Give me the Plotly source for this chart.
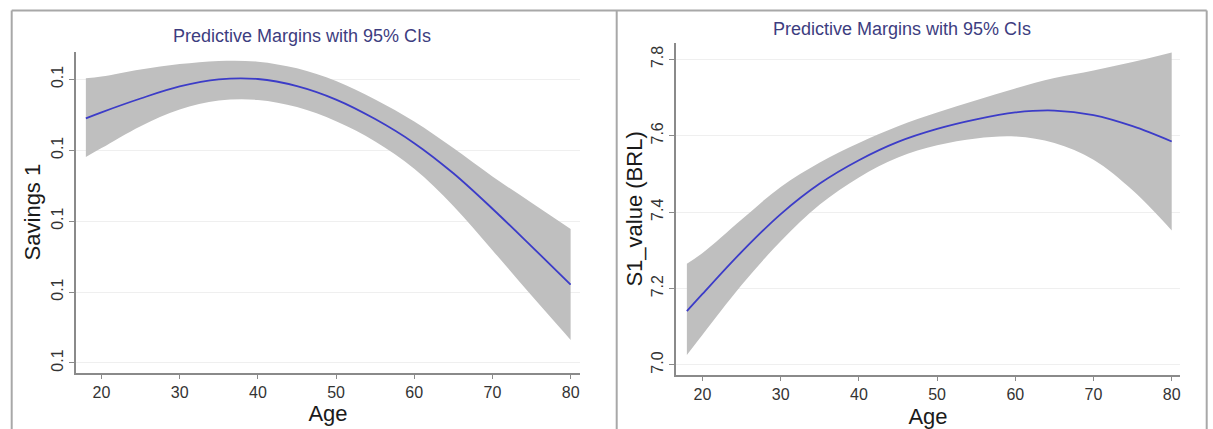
import plotly.graph_objects as go

# ---------------- data ----------------
ages = [18, 20, 25, 30, 35, 40, 45, 50, 55, 60, 65, 70, 75, 80]

# Left panel: Savings 1
sav_margin = [0.1290, 0.1307, 0.1346, 0.1380, 0.1400, 0.1401, 0.1381, 0.1343,
              0.1288, 0.1220, 0.1135, 0.1035, 0.0929, 0.0821]
sav_upper = [0.1403, 0.1408, 0.1428, 0.1443, 0.1452, 0.1450, 0.1431, 0.1395,
             0.1343, 0.1281, 0.1206, 0.1126, 0.1052, 0.0978]
sav_lower = [0.1181, 0.1206, 0.1268, 0.1315, 0.1340, 0.1342, 0.1322, 0.1282,
             0.1225, 0.1148, 0.1043, 0.0918, 0.0790, 0.0665]

# Right panel: S1_value (BRL)
val_margin = [7.141, 7.186, 7.296, 7.395, 7.475, 7.536, 7.584, 7.618,
              7.643, 7.661, 7.666, 7.654, 7.625, 7.585]
val_upper = [7.265, 7.293, 7.381, 7.466, 7.530, 7.581, 7.625, 7.661,
             7.693, 7.724, 7.751, 7.771, 7.793, 7.818]
val_lower = [7.026, 7.079, 7.209, 7.324, 7.420, 7.491, 7.543, 7.575,
             7.593, 7.598, 7.581, 7.537, 7.457, 7.352]

x_ticks = [20, 30, 40, 50, 60, 70, 80]
left_y_ticks = [0.06, 0.08, 0.10, 0.12, 0.14]
left_y_text = ["0.1", "0.1", "0.1", "0.1", "0.1"]
right_y_ticks = [7.0, 7.2, 7.4, 7.6, 7.8]
right_y_text = ["7.0", "7.2", "7.4", "7.6", "7.8"]

title_text = "Predictive Margins with 95% CIs"
left_ytitle = "Savings 1"
right_ytitle = "S1_value (BRL)"
xtitle = "Age"

# ---------------- styles ----------------
W, H = 1213, 429
BAND = "#bfbfbf"
LINE = "#3c3cc8"
AX = "#8a8a8a"
FONT = "Liberation Sans, Arial, Helvetica, sans-serif"

def px_x(p):
    return p / W

def px_y(p):
    return 1 - p / H

fig = go.Figure()

def add_panel(xa, ya, lo, up, mid):
    fig.add_trace(go.Scatter(x=ages, y=lo, xaxis=xa, yaxis=ya, mode="lines",
                             line=dict(width=0, shape="spline", color=BAND),
                             showlegend=False, hoverinfo="skip"))
    fig.add_trace(go.Scatter(x=ages, y=up, xaxis=xa, yaxis=ya, mode="lines",
                             line=dict(width=0, shape="spline", color=BAND),
                             fill="tonexty", fillcolor=BAND,
                             showlegend=False, hoverinfo="skip"))
    fig.add_trace(go.Scatter(x=ages, y=mid, xaxis=xa, yaxis=ya, mode="lines",
                             line=dict(width=1.8, shape="spline", color=LINE),
                             showlegend=False))

add_panel("x", "y", sav_lower, sav_upper, sav_margin)
add_panel("x2", "y2", val_lower, val_upper, val_margin)

def xaxis_style(standoff):
    return dict(
        tickvals=x_ticks, showgrid=False, zeroline=False,
        showline=True, linecolor=AX, linewidth=1.5,
        ticks="outside", ticklen=5, tickwidth=1.2, tickcolor=AX,
        tickfont=dict(family=FONT, size=16, color="#333333"),
        title=dict(text=xtitle, font=dict(family=FONT, size=22, color="#1a1a1a"),
                   standoff=standoff),
    )

common_y = dict(
    showgrid=True, gridcolor="#efefef", gridwidth=1, zeroline=False,
    showline=True, linecolor=AX, linewidth=1.5,
    ticks="outside", ticklen=5, tickwidth=1.2, tickcolor=AX,
    tickangle=-90,
    tickfont=dict(family=FONT, size=16, color="#333333"),
)

fig.update_layout(
    width=W, height=H,
    margin=dict(l=0, r=0, t=0, b=0),
    paper_bgcolor="white", plot_bgcolor="white",
    xaxis=dict(domain=[px_x(76), px_x(580)], range=[16.74, 81.2], anchor="y",
               **xaxis_style(3)),
    yaxis=dict(domain=[px_y(372.5), px_y(51.7)], range=[0.0573, 0.1478], anchor="x",
               tickvals=left_y_ticks, ticktext=left_y_text,
               title=dict(text=left_ytitle, font=dict(family=FONT, size=22, color="#1a1a1a"),
                          standoff=2),
               **common_y),
    xaxis2=dict(domain=[px_x(676), px_x(1180)], range=[16.61, 81.06], anchor="y2",
                **xaxis_style(8)),
    yaxis2=dict(domain=[px_y(374.5), px_y(43.3)], range=[6.975, 7.842], anchor="x2",
                tickvals=right_y_ticks, ticktext=right_y_text,
                title=dict(text=right_ytitle, font=dict(family=FONT, size=22, color="#1a1a1a"),
                           standoff=0),
                **common_y),
)

# panel titles
fig.add_annotation(x=px_x(301.5), y=px_y(35.5), xref="paper", yref="paper",
                   text=title_text, showarrow=False, xanchor="center", yanchor="middle",
                   font=dict(family=FONT, size=18, color="#3d3d80"))
fig.add_annotation(x=px_x(901.5), y=px_y(28.5), xref="paper", yref="paper",
                   text=title_text, showarrow=False, xanchor="center", yanchor="middle",
                   font=dict(family=FONT, size=18, color="#3d3d80"))

# frame around the combined graph
FR = "#a8a8a8"
top = px_y(10.5)
for (x0, y0, x1, y1) in [
    (px_x(11.7), top, px_x(1206.7), top),
    (px_x(11.7), 0, px_x(11.7), top),
    (px_x(616.7), 0, px_x(616.7), top),
    (px_x(1206.7), 0, px_x(1206.7), top),
]:
    fig.add_shape(type="line", xref="paper", yref="paper", x0=x0, y0=y0, x1=x1, y1=y1,
                  line=dict(color=FR, width=2))

fig.write_html(
    "out.html",
    config={"displayModeBar": False},
    post_script="document.body.style.margin='0';document.body.style.overflow='hidden';",
)
